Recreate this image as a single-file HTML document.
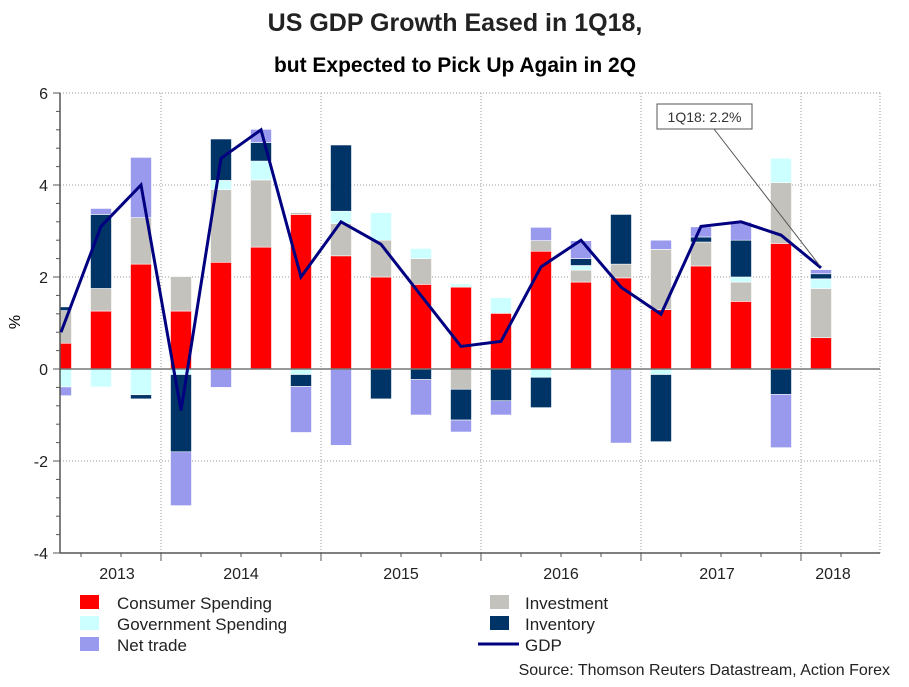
<!DOCTYPE html>
<html><head><meta charset="utf-8"><style>
body{margin:0;background:#fff;width:909px;height:682px;overflow:hidden;font-family:"Liberation Sans",Arial,sans-serif}
</style></head><body>
<svg id="chart" width="909" height="682" xmlns="http://www.w3.org/2000/svg" font-family="Liberation Sans, Arial, sans-serif">
<text x="455" y="31" text-anchor="middle" font-size="25" font-weight="bold" fill="#222">US GDP Growth Eased in 1Q18,</text>
<text x="455" y="72" text-anchor="middle" font-size="21" font-weight="bold" fill="#000">but Expected to Pick Up Again in 2Q</text>
<text x="20" y="322" font-size="16" text-anchor="middle" transform="rotate(-90 20 322)">%</text>
<g id="grid"></g><g id="bars"></g><g id="axes"></g><g id="line"></g>
<g>
<line x1="714" y1="129" x2="820" y2="266" stroke="#555" stroke-width="1"/>
<rect x="657" y="104" width="95" height="25" fill="#fff" stroke="#555"/>
<text x="704.5" y="122" text-anchor="middle" font-size="14" fill="#333">1Q18: 2.2%</text>
</g>
<g font-size="17" fill="#222">
<rect x="80" y="595" width="19" height="14" fill="#ff0000"/>
<text x="117" y="609">Consumer Spending</text>
<rect x="80" y="616" width="19" height="14" fill="#ccffff"/>
<text x="117" y="630">Government Spending</text>
<rect x="80" y="637" width="19" height="14" fill="#9999ee"/>
<text x="117" y="651">Net trade</text>
<rect x="490" y="595" width="19" height="14" fill="#c4c2bc"/>
<text x="525" y="609">Investment</text>
<rect x="490" y="616" width="19" height="14" fill="#003366"/>
<text x="525" y="630">Inventory</text>
<line x1="478" y1="644" x2="519" y2="644" stroke="#000080" stroke-width="3"/>
<text x="525" y="651">GDP</text>
</g>
<text x="890" y="675" text-anchor="end" font-size="16" fill="#222">Source: Thomson Reuters Datastream, Action Forex</text>
</svg>
<script>
const consumer=[0.56,1.26,2.28,1.26,2.32,2.65,3.36,2.46,2.0,1.84,1.78,1.21,2.56,1.89,1.98,1.29,2.24,1.47,2.73,0.68];
const investment=[0.71,0.49,1.01,0.75,1.58,1.46,0.04,0.7,0.8,0.56,-0.44,0,0.23,0.26,0.3,1.31,0.52,0.42,1.32,1.07];
const government=[-0.39,-0.39,-0.56,-0.12,0.2,0.41,-0.12,0.27,0.6,0.22,0.07,0.34,-0.18,0.1,0,-0.12,0,0.11,0.53,0.21];
const inventory=[0.08,1.61,-0.09,-1.68,0.9,0.4,-0.26,1.44,-0.65,-0.23,-0.67,-0.69,-0.66,0.15,1.08,-1.46,0.11,0.8,-0.55,0.11];
const netTrade=[-0.19,0.13,1.31,-1.17,-0.4,0.29,-1.0,-1.66,0,-0.77,-0.26,-0.31,0.29,0.39,-1.61,0.2,0.22,0.39,-1.16,0.09];
const gdp=[0.8,3.1,4.0,-0.9,4.58,5.2,2.0,3.2,2.71,1.6,0.49,0.6,2.22,2.8,1.78,1.19,3.1,3.2,2.91,2.2];
const yTicks=[6,4,2,0,-2,-4];
const yearLabels=["2013","2014","2015","2016","2017","2018"];
const yearLabelQ=[1.4,4.5,8.5,12.5,16.4,19.3];

const NS="http://www.w3.org/2000/svg";
const L=60,R=880,T=93,B=553,yMin=-4,yMax=6;
const y=v=>B-(v-yMin)/(yMax-yMin)*(B-T);
const x=i=>61+i*40;
function mk(tag,attrs,parent){const e=document.createElementNS(NS,tag);for(const k in attrs)e.setAttribute(k,attrs[k]);parent.appendChild(e);return e;}
const grid=document.getElementById('grid'),bars=document.getElementById('bars'),axes=document.getElementById('axes'),lineG=document.getElementById('line');
// grid
yTicks.forEach(t=>{if(t===0||t===yMin)return;const g=mk('line',{x1:L,x2:R,y1:y(t),y2:y(t),stroke:'#999','stroke-dasharray':'1,2'},grid);

});
for(let k=0;k<=4;k++){const xb=x(2.5+4*k);const g=mk('line',{x1:xb,x2:xb,y1:T,y2:B,stroke:'#999','stroke-dasharray':'1,2'},grid);

}
mk('line',{x1:L,x2:R,y1:T,y2:T,stroke:'#999','stroke-dasharray':'1,2'},grid);
mk('line',{x1:R,x2:R,y1:T,y2:B,stroke:'#999','stroke-dasharray':'1,2'},grid);
// bars
const series=[[consumer,'#ff0000','consumer'],[investment,'#c4c2bc','investment'],[government,'#ccffff','government'],[inventory,'#003366','inventory'],[netTrade,'#9999ee','net-trade']];
const cp=mk('clipPath',{id:'plotclip'},bars);mk('rect',{x:L,y:T,width:R-L,height:B-T},cp);
bars.setAttribute('clip-path','url(#plotclip)');
for(let i=0;i<consumer.length;i++){let pos=0,neg=0;
series.forEach(([arr,col,nm])=>{const v=arr[i];if(!v)return;let a,b;
if(v>0){a=pos;b=pos+v;pos=b;}else{a=neg;b=neg+v;neg=b;}
const r=mk('rect',{x:x(i)-10.5,width:21,y:Math.min(y(a),y(b)),height:Math.abs(y(a)-y(b)),fill:col,stroke:'#fff','stroke-width':0.6},bars);

});}
// axes
const zl=mk('line',{x1:L,x2:R,y1:y(0),y2:y(0),stroke:'#777','stroke-width':1.5},axes);


const ya=mk('line',{x1:L,x2:L,y1:T,y2:B,stroke:'#555','stroke-width':1.5},axes);


const xa=mk('line',{x1:L,x2:R,y1:B,y2:B,stroke:'#555','stroke-width':1.5},axes);


for(let v=yMin;v<=yMax+0.001;v+=0.4){const major=Math.abs(v-Math.round(v))<0.01&&Math.round(v)%2===0;
mk('line',{x1:major?L-7:L-4,x2:L,y1:y(v),y2:y(v),stroke:'#555'},axes);}
yTicks.forEach(t=>{const tx=mk('text',{x:48,y:y(t)+6,'text-anchor':'end','font-size':16,fill:'#222'},axes);tx.textContent=t;

});
for(let k=0;k<21;k++){const xb=x(k-0.5);if(xb<L)continue;const major=(k-3)%4===0;
mk('line',{x1:xb,x2:xb,y1:B,y2:B+(major?8:4),stroke:'#555'},axes);}
yearLabels.forEach((lab,j)=>{const tx=mk('text',{x:x(yearLabelQ[j]),y:579,'text-anchor':'middle','font-size':16,fill:'#222'},axes);tx.textContent=lab;

});
// gdp line
const pl=mk('polyline',{points:gdp.map((v,i)=>x(i)+','+y(v)).join(' '),fill:'none',stroke:'#000080','stroke-width':3,'stroke-linejoin':'miter'},lineG);


lineG.setAttribute('clip-path','url(#plotclip)');
</script>
</body></html>
